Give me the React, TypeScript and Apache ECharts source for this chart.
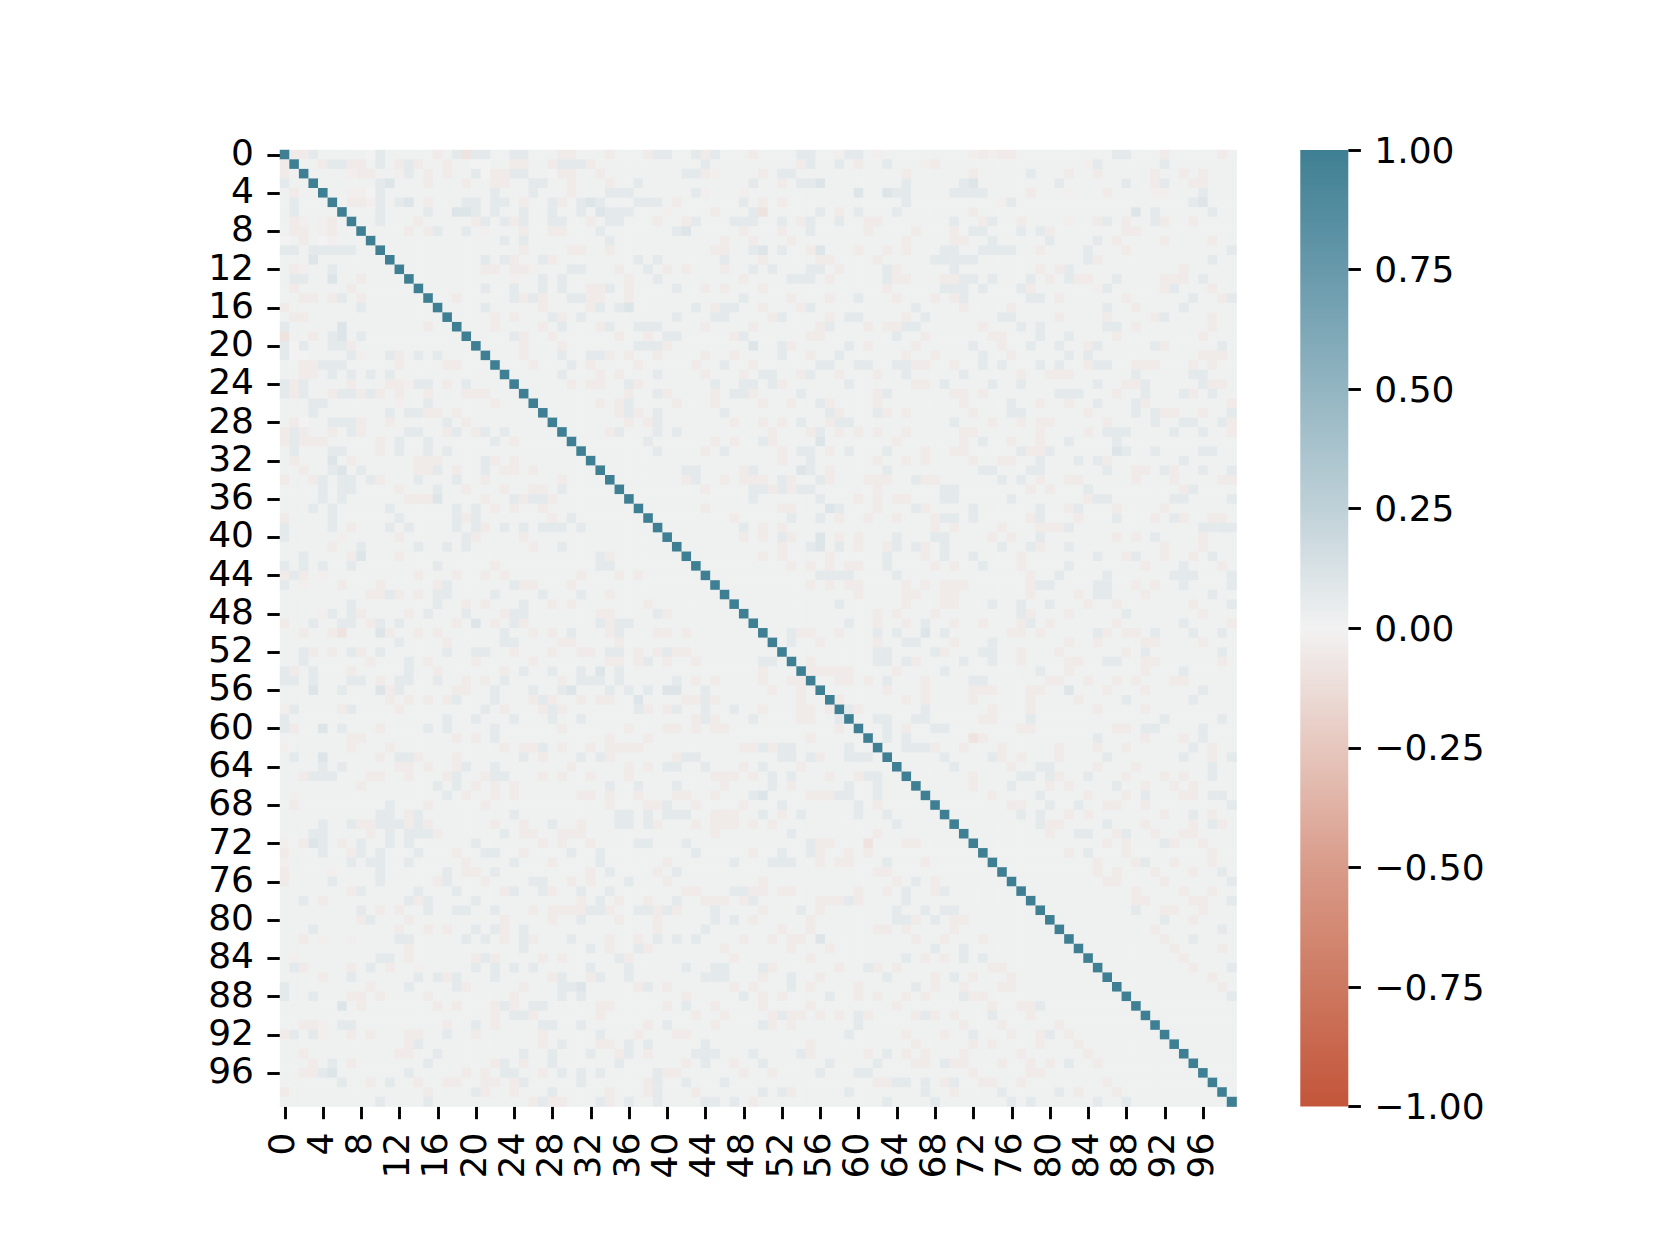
import React, { useEffect, useRef } from "react";
import * as echarts from "echarts";

// Cell values, upper triangle only, in ten-cell blocks.
// Each digit indexes levelValues; only columns right of the diagonal are used.
const levelValues = [-0.09, -0.045, -0.025, 0.0, 0.015, 0.07, 0.1, 0.13];
const upperRows = [
  "4115444443 5444441450 5544554441 1444144415 5445154441 4444554425 5424444444 4421211444 4444444554 4414444414",
  "4444155114 5415144144 3344114415 5514444444 4444544444 4444154454 1445444214 4444444444 4444254444 4454444444",
  "4444444211 4425414144 5311554431 1441444444 4455124444 1455444444 4444414444 4414444454 4414414444 4144141444",
  "4444444444 5644414441 4411445544 1444144544 4444444445 4414556444 4444454444 4564444444 4544444454 4154411444",
  "4444444223 5444444444 4454445444 1444555444 4445244424 4444444444 6446554444 5555444414 4424441444 4224445444",
  "4444444112 5456414445 5455414451 4565444555 4144444454 1414444444 4444454444 4444425444 4444444444 4444456444",
  "4444444444 5444454466 5454454454 4546555444 2444414445 0444445414 5444544444 4414444444 4444444446 4544444544",
  "4444444444 5444144444 1545154455 4414554441 4415444555 4454154454 4114444444 5441544144 4424415414 4514414444",
  "4444444444 4441415445 4244414411 4445444444 4564444414 4414454444 4144441444 1455444545 1444444411 4444444444",
  "4444444444 4444444444 4445454444 4444544444 4444441441 4441444444 4444414444 1144544444 5444454144 4414444144",
  "4444444444 4444444444 4444414444 1144144444 4444411445 6454416444 1441414445 5445555441 4444544414 4444444445",
  "4444444444 4444444444 4545144514 4444444545 4444445444 1444441144 4414444455 5554444444 4444514444 4444444544",
  "4444444444 4444444444 4114112444 5544414454 1414441445 4544455414 4445144444 5444444441 4154444444 4444144444",
  "4444444444 4444444444 4444244545 4444441445 4444444414 4445554144 4445114441 1554544454 1451144544 4411145444",
  "4444444444 4444444444 4544544545 4411541444 4544141444 1444444444 4441444445 5545444514 4444425444 4415444144",
  "4444444444 4444544414 4444515144 5511441444 4444444454 4441444144 5444144414 1544444455 4144444414 4444454415",
  "4444444444 4444444444 4544444144 4415456444 4445415544 1444154444 4444445444 4144441444 4444445441 4444544444",
  "4444444444 4444444444 4414144451 4544444444 4544455444 4154444145 5444414544 4444455444 4144441444 4154444144",
  "4444444444 4444444444 4414444145 4441544555 4444144441 4444441544 4141155444 4441444545 4444445541 4444444144",
  "4444444444 4444444444 4444514414 4444414414 5544444154 4444411444 4444544144 4444114445 4454444144 4444441444",
  "4444444444 4444444444 4444414441 4444444555 1444444446 4451444445 4144441444 4454414454 4544154444 4514444454",
  "4444444444 4444444444 4444414445 4455141441 4444144144 4454414454 4444414414 4445441444 4454544444 4444441114",
  "4444444444 4444444444 4444441444 5414444144 4441445441 4444445544 5544551144 1445454445 4544155441 1144414144",
  "4444444444 4444444444 4444444445 4441414445 4444144414 5544154414 4414454444 4544444144 1114444445 4444455444",
  "4444444444 4444444444 4444444444 1411445144 4444454455 4514444445 4444441145 4444544544 4444454411 5444445114",
  "4444444444 4444444444 4444444444 4444441445 1444414551 4444544444 4415444444 1141444444 4555444144 5444514544",
  "4444444444 4444444444 4444444444 4441415444 4144414444 1441445144 4414444444 4144445441 4414454445 1444444441",
  "4444444444 4444444444 4444444444 4444415145 4444445444 4444444514 4451414444 4414445544 4444144445 4511441445",
  "4444444444 4444444444 4444444444 4444441415 4444444144 1414544155 4444444444 5444144141 1444441444 4544554451",
  "4444444444 4444444444 4444444444 4444154445 4544444444 4144415414 1414414444 4114444441 4444145554 4445445441",
  "4444444444 4444444444 4444444444 4444444454 4444414144 5144446444 4444144444 4145441441 4454444544 4444444444",
  "4444444444 4444444444 4444444444 4444444445 4444145444 4414554145 4445444144 1144444511 5444444654 4544445544",
  "4444444444 4444444444 4444444444 4444444444 4444444444 4414454444 4414414144 4414411445 4445451444 4444544444",
  "4444444444 4444444444 4444444444 4444444444 4455444415 4444654144 4445444444 4445544455 4444445441 1451445445",
  "4444444444 4444444444 4444444444 4444444444 4415441411 1451445144 4111445114 4444454541 4411444441 4441444411",
  "4444444444 4444444444 4444444444 4444444444 4444144445 5151554444 4414444445 5444444414 1444544444 4444154444",
  "4444444444 4444444444 4444444444 4444444444 4444444445 4444445444 1414114445 5444445444 4444155444 4445544445",
  "4444444444 4444444444 4444444444 4444444444 4444144444 4411444654 4414445144 4454444445 4415444144 4414444444",
  "4444444444 4444444444 4444444444 4444444444 4444444144 4445445414 4144144415 5454444415 4441444544 4145144114",
  "4444444444 4444444444 4444444444 4444444444 4444444454 1414444444 4444444414 1444414441 1154444444 4444445555",
  "4444444444 4444444444 4444444444 4444444444 4444444414 1451446414 1444544455 4444141445 4444444141 4544441444",
  "4444444444 4444444444 4444444444 4444444444 4444444444 4414456454 1441545145 4444454451 4454444444 4414441444",
  "4444444444 4444444444 4444444444 4444444444 4444444444 1414444144 4445444145 4454444144 4444454415 4414414544",
  "4444444444 4444444444 4444444444 4444444444 4444444444 4441414141 1445444414 1445444144 4454444444 1444544414",
  "4444444444 4444444444 4444444444 4444444444 4444444444 4444445555 4444544444 4444444414 4544445444 4445554445",
  "4444444444 4444444444 4444444444 4444444444 4444444444 4444414141 1444414141 1144444415 5444455441 4144544445",
  "4444444444 4444444444 4444444444 4444444444 4444444444 4444444444 1444411441 1444444414 4441455444 1444444544",
  "4444444444 4444444444 4444444444 4444444444 4444444444 4444444454 4444414441 1444544544 5444144144 4444414445",
  "4444444444 4444444444 4444444444 4444444444 4444444444 4444444444 4414144414 4444444514 4414444454 4444441444",
  "4444444444 4444444444 4444444444 4444444444 4444444444 4444444445 4414414544 1441444154 1444444144 4444544441",
  "4444444444 4444444444 4444444444 4444444444 4444444444 4445114414 4454544645 4444441141 4444451411 4544454454",
  "4444444444 4444444444 4444444444 4444444444 4444444444 4445441444 4414455444 1444544444 4414414444 1144441444",
  "4444444444 4444444444 4444444444 4444444444 4444444444 4444444444 4455444451 4445544144 4144444414 5444444454",
  "4444444444 4444444444 4444444444 4444444444 4444444444 4444414444 4455451444 4544544144 4411445544 1144444414",
  "4444444444 4444444444 4444444444 4444444444 4444444444 4441111111 4444144445 4444444445 4414444444 1444544444",
  "4444444444 4444444444 4444444444 4444444444 4444444444 4444414411 4145444144 4455444444 1144144141 4441144444",
  "4444444444 4444444444 4444444444 4444444444 4444444444 4444444444 4441444144 4411144411 4464441444 1444445444",
  "4444444444 4444444444 4444444444 4444444444 4444444444 4444444414 4444414144 4414444414 4441444454 4444454444",
  "4444444444 4444444444 4444444444 4444444444 4444444444 4444444415 1444444544 4444144414 4444414444 1444444444",
  "4444444444 4444444444 4444444444 4444444444 4444444444 4444444444 4455445544 4441144454 4444444444 4454444454",
  "4444444444 4444444444 4444444444 4444444444 4444444444 4444444444 4445414455 4444444114 4444444114 5544445444",
  "4444444444 4444444444 4444444444 4444444444 4444444444 4444444444 4445454444 4401444444 4444454444 1444145444",
  "4444444444 4444444444 4444444444 4444444444 4444444444 4444444444 4444455514 4144414444 4144414414 4444454144",
  "4444444444 4444444444 4444444444 4444444444 4444444444 4444444444 4444444445 4444514144 4144445444 4444544145",
  "4444444444 4444444444 4444444444 4444444444 4444444444 4444444444 4444444444 5444441445 5444414441 4444444544",
  "4444444444 4444444444 4444444444 4444444444 4444444444 4444444444 4444444444 4414444554 5144544414 4414144544",
  "4444444444 4444444444 4444444444 4444444444 4444444444 4444444444 4444444444 4414445444 1414444544 1441414444",
  "4444444444 4444444444 4444444444 4444444444 4444444444 4444444444 4444444444 4444144445 4444144414 5444114554",
  "4444444444 4444444444 4444444444 4444444444 4444444444 4444444444 4444444444 4444441144 5445441144 1444444445",
  "4444444444 4444444444 4444444444 4444444444 4444444444 4444444444 4444444444 4444444545 4414144444 4414454144",
  "4444444444 4444444444 4444444444 4444444444 4444444444 4444444444 4444444444 4444444445 1144445444 1444414514",
  "4444444444 4444444444 4444444444 4444444444 4444444444 4444444444 4444444444 4444444444 1445544154 4144114444",
  "4444444444 4444444444 4444444444 4444444444 4444444444 4444444444 4444444444 4444444444 4444441414 4451441444",
  "4444444444 4444444444 4444444444 4444444444 4444444444 4444444444 4444444444 4444444444 4414544414 4444444144",
  "4444444444 4444444444 4444444444 4444444444 4444444444 4444444444 4444444444 4444444444 4444414441 5441444144",
  "4444444444 4444444444 4444444444 4444444444 4444444444 4444444444 4444444444 4444444444 4444414144 4144414454",
  "4444444444 4444444444 4444444444 4444444444 4444444444 4444444444 4444444444 4444444444 4444441144 4414444445",
  "4444444444 4444444444 4444444444 4444444444 4444444444 4444444444 4444444444 4444444444 4444444441 4444144144",
  "4444444444 4444444444 4444444444 4444444444 4444444444 4444444444 4444444444 4444444444 4444444441 1444411445",
  "4444444444 4444444444 4444444444 4444444444 4444444444 4444444444 4444444444 4444444444 4444444445 4411441444",
  "4444444444 4444444444 4444444444 4444444444 4444444444 4444444444 4444444444 4444444444 4444444444 4454414444",
  "4444444444 4444444444 4444444444 4444444444 4444444444 4444444444 4444444444 4444444444 4444444444 4144444454",
  "4444444444 4444444444 4444444444 4444444444 4444444444 4444444444 4444444444 4444444444 4444444444 4414454444",
  "4444444444 4444444444 4444444444 4444444444 4444444444 4444444444 4444444444 4444444444 4444444444 4441444414",
  "4444444444 4444444444 4444444444 4444444444 4444444444 4444444444 4444444444 4444444444 4444444444 4444144444",
  "4444444444 4444444444 4444444444 4444444444 4444444444 4444444444 4444444444 4444444444 4444444444 4444414445",
  "4444444444 4444444444 4444444444 4444444444 4444444444 4444444444 4444444444 4444444444 4444444444 4444444144",
  "4444444444 4444444444 4444444444 4444444444 4444444444 4444444444 4444444444 4444444444 4444444444 4444444414",
  "4444444444 4444444444 4444444444 4444444444 4444444444 4444444444 4444444444 4444444444 4444444444 4444444445",
];
const diagonalValue = 1;
const colorbarTicks = { min: -1, max: 1, interval: 0.25 };
const paletteStops = ["#c3553a", "#cd7860", "#d99b89", "#e6c7be", "#f2f2f2", "#bfd1d8", "#93b5c2", "#6799ab", "#3f7f93"];
const categories = Array.from({ length: 100 }, (_, i) => String(i));

function buildCells() {
  const n = categories.length;
  const m: number[][] = categories.map(() => categories.map(() => levelValues[4]));
  upperRows.forEach((row, i) => {
    const digits = row.replace(/ /g, "");
    for (let k = i + 1; k < digits.length && k < n; k++) {
      const v = levelValues[Number(digits[k])];
      m[i][k] = v;
      m[k][i] = v;
    }
  });
  const cells: number[][] = [];
  for (let i = 0; i < n; i++) {
    for (let j = 0; j < n; j++) cells.push([j, i, i === j ? diagonalValue : m[i][j]]);
  }
  return cells;
}

const fontFamily = "DejaVu Sans";
const fontSize = 36;
const tickStyle = { color: "#000", width: 2.9 };

export default function App() {
  const ref = useRef<HTMLDivElement>(null);
  useEffect(() => {
    const chart = echarts.init(ref.current!, null, { renderer: "svg" });
    const label = { color: "#000", fontFamily, fontSize };
    const gradient = new echarts.graphic.LinearGradient(
      0, 1, 0, 0,
      paletteStops.map((color, i) => ({ offset: i / (paletteStops.length - 1), color }))
    );
    chart.setOption({
      animation: false,
      backgroundColor: "#fff",
      grid: [
        { left: 280, top: 150, width: 956.6, height: 956.6 },
        { left: 1300.3, top: 150, width: 48, height: 956.6 },
      ],
      xAxis: [
        {
          type: "category",
          data: categories,
          gridIndex: 0,
          position: "bottom",
          axisLine: { show: false, onZero: false },
          splitLine: { show: false },
          splitArea: { show: false },
          axisTick: { show: true, alignWithLabel: true, interval: 3, length: 12.6, lineStyle: tickStyle },
          axisLabel: { ...label, interval: 3, rotate: 90, margin: 26, verticalAlign: "bottom", lineHeight: 6, hideOverlap: false },
        },
        { type: "value", gridIndex: 1, show: false, min: 0, max: 1 },
      ],
      yAxis: [
        {
          type: "category",
          data: categories,
          gridIndex: 0,
          inverse: true,
          axisLine: { show: false, onZero: false },
          splitLine: { show: false },
          splitArea: { show: false },
          axisTick: { show: true, alignWithLabel: true, interval: 3, length: 12.6, lineStyle: tickStyle },
          axisLabel: { ...label, interval: 3, margin: 26, verticalAlign: "bottom", lineHeight: 5, hideOverlap: false },
        },
        {
          type: "value",
          gridIndex: 1,
          position: "right",
          min: colorbarTicks.min,
          max: colorbarTicks.max,
          interval: colorbarTicks.interval,
          axisLine: { show: false, onZero: false },
          splitLine: { show: false },
          axisTick: { show: true, length: 12.6, lineStyle: tickStyle },
          axisLabel: {
            ...label,
            margin: 26,
            formatter: (v: number) => (v < 0 ? "\u2212" : "") + Math.abs(v).toFixed(2),
          },
        },
      ],
      visualMap: {
        type: "continuous",
        show: false,
        min: colorbarTicks.min,
        max: colorbarTicks.max,
        seriesIndex: 0,
        dimension: 2,
        inRange: { color: paletteStops },
      },
      series: [
        {
          type: "heatmap",
          xAxisIndex: 0,
          yAxisIndex: 0,
          data: buildCells(),
          silent: true,
          progressive: 0,
          itemStyle: { borderWidth: 0 },
          emphasis: { disabled: true },
        },
        {
          type: "custom",
          xAxisIndex: 1,
          yAxisIndex: 1,
          silent: true,
          data: [[0, colorbarTicks.min, 1, colorbarTicks.max]],
          renderItem: (_: any, api: any) => {
            const a = api.coord([api.value(0), api.value(1)]);
            const b = api.coord([api.value(2), api.value(3)]);
            return {
              type: "rect",
              shape: { x: a[0], y: b[1], width: b[0] - a[0], height: a[1] - b[1] },
              style: { fill: gradient },
            };
          },
        },
      ],
    });
    return () => chart.dispose();
  }, []);
  return <div ref={ref} style={{ position: "absolute", left: 0, top: 0, width: 1661, height: 1244 }} />;
}
